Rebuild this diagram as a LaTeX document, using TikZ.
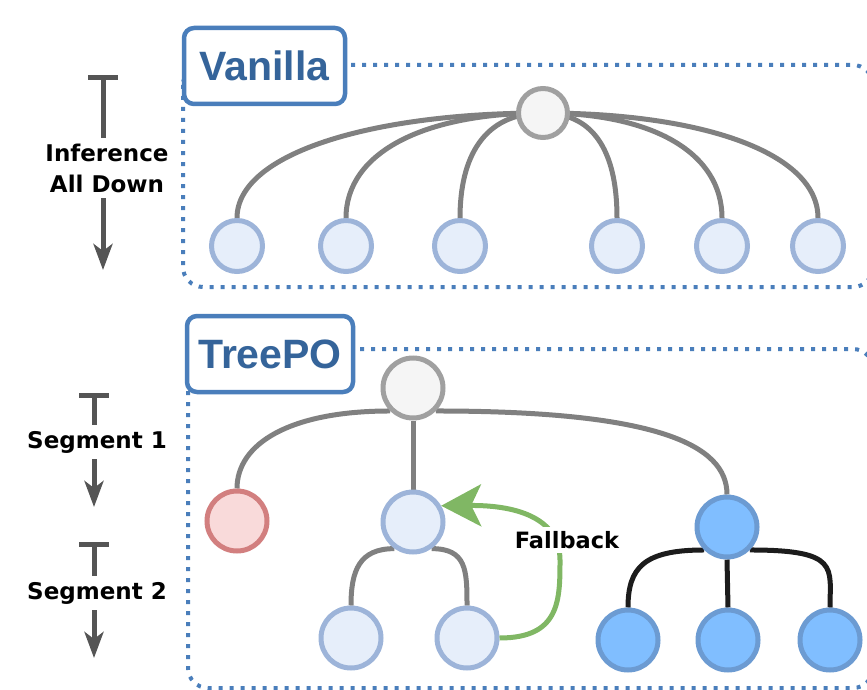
\documentclass[tikz,border=0pt]{standalone}
\usepackage{fontspec}
\newfontfamily\labfont{DejaVu Sans}
\newfontfamily\ttlfont{Liberation Sans}
\usetikzlibrary{arrows.meta,backgrounds}
\definecolor{frameblue}{HTML}{4A7EBB}
\definecolor{titleblue}{HTML}{35649A}
\definecolor{rootfill}{HTML}{F5F5F5}
\definecolor{rootdraw}{HTML}{A0A0A0}
\definecolor{leaffill}{HTML}{E6EEFA}
\definecolor{leafdraw}{HTML}{9DB4D9}
\definecolor{redfill}{HTML}{F9DADA}
\definecolor{reddraw}{HTML}{D27F7F}
\definecolor{bluefill}{HTML}{80BEFF}
\definecolor{bluedraw}{HTML}{6C9BD2}
\definecolor{edgegray}{HTML}{808080}
\definecolor{edgeblack}{HTML}{1C1C1C}
\definecolor{fbgreen}{HTML}{80B764}
\definecolor{arrgray}{HTML}{555555}
\begin{document}
\begin{tikzpicture}[x=1pt,y=-1pt,
  frame/.style={draw=frameblue, line width=4pt, dash pattern=on 4pt off 7pt, rounded corners=20pt},
  titlebox/.style={draw=frameblue, line width=4.5pt, rounded corners=10pt, fill=white, text=titleblue,
    font=\ttlfont\bfseries\fontsize{41}{41}\selectfont, inner sep=0pt},
  vroot/.style={circle, draw=rootdraw, fill=rootfill, line width=5pt, inner sep=0pt, minimum size=49pt},
  vleaf/.style={circle, draw=leafdraw, fill=leaffill, line width=5pt, inner sep=0pt, minimum size=51pt},
  tnode/.style={circle, line width=5pt, inner sep=0pt, minimum size=60pt},
  troot/.style={tnode, draw=rootdraw, fill=rootfill},
  tlight/.style={tnode, draw=leafdraw, fill=leaffill},
  tred/.style={tnode, draw=reddraw, fill=redfill},
  tblue/.style={tnode, draw=bluedraw, fill=bluefill},
  gedge/.style={draw=edgegray, line width=5pt},
  bedge/.style={draw=edgeblack, line width=5pt},
  segarrow/.style={draw=arrgray, line width=5pt, arrows={Bar[width=30pt]-Stealth[length=26pt,width=19pt,inset=7pt]}},
  seglabel/.style={fill=white, font=\labfont\bfseries\fontsize{23}{31}\selectfont, align=center, inner sep=5.5pt},
  fb/.style={draw=fbgreen, line width=5pt, arrows={-Stealth[length=40pt,width=42pt,inset=10pt]}},
  fblabel/.style={fill=white, font=\labfont\bfseries\fontsize{22.5}{26}\selectfont, inner sep=4pt}
]
\useasboundingbox (0,0) rectangle (867,690);
\clip (0,0) rectangle (867,690);

% frames
\draw[frame] (183,65) rectangle (873,287);
\draw[frame] (188,349) rectangle (873,688);

% titles
\node[titlebox, minimum width=161pt, minimum height=76pt] (vt) at (264.5,66) {Vanilla};
\node[titlebox, minimum width=166pt, minimum height=76pt] (tt) at (270,354) {TreePO};

% vanilla tree
\node[vroot] (v0) at (543,113) {};
\node[vleaf] (v1) at (237,246) {};
\node[vleaf] (v2) at (346,246) {};
\node[vleaf] (v3) at (460,246) {};
\node[vleaf] (v4) at (617,246) {};
\node[vleaf] (v5) at (722,246) {};
\node[vleaf] (v6) at (818,246) {};

% treepo tree
\node[troot] (t0) at (413,388) {};
\node[tred] (r1) at (237,521) {};
\node[tlight] (m1) at (413,522) {};
\node[tblue] (b0) at (727,527) {};
\node[tlight] (c1) at (351,638) {};
\node[tlight] (c2) at (467,638) {};
\node[tblue] (d1) at (628,640) {};
\node[tblue] (d2) at (728,640) {};
\node[tblue] (d3) at (830,640) {};

\begin{scope}[on background layer]
  \draw[gedge] (v0.center) .. controls +(-170,0) and +(0,-65) .. (v1.north);
  \draw[gedge] (v0.center) .. controls +(-120,0) and +(0,-65) .. (v2.north);
  \draw[gedge] (v0.center) .. controls +(-60,0) and +(0,-60) .. (v3.north);
  \draw[gedge] (v0.center) .. controls +(55,0) and +(0,-60) .. (v4.north);
  \draw[gedge] (v0.center) .. controls +(110,0) and +(0,-65) .. (v5.north);
  \draw[gedge] (v0.center) .. controls +(160,0) and +(0,-65) .. (v6.north);

  \draw[gedge] (t0.-135) .. controls +(-100,0) and +(0,-45) .. (r1.north);
  \draw[gedge] (t0.south) -- (m1.north);
  \draw[gedge] (t0.-45) .. controls +(220,0) and +(0,-50) .. (b0.north);
  \draw[gedge] (m1.-125) .. controls +(-35,0) and +(0,-35) .. (c1.north);
  \draw[gedge] (m1.-55) .. controls +(35,0) and +(0,-35) .. (c2.north);
  \draw[bedge] (b0.-135) .. controls +(-60,0) and +(0,-40) .. (d1.north);
  \draw[bedge] (b0.south) -- (d2.north);
  \draw[bedge] (b0.-45) .. controls +(90,0) and +(0,-40) .. (d3.north);
\end{scope}

% fallback
\draw[fb] (c2.east) .. controls (560,638) and (560,600) .. (560,560) .. controls (560,520) and (520,505) .. (m1.30);
\node[fblabel] (fbl) at (567,540) {Fallback};

% left arrows
\coordinate (ia) at (103,75);
\coordinate (ib) at (103,270);
\draw[segarrow] (ia) -- (ib);
\node[seglabel, inner sep=6pt] (inf) at (107,168) {Inference\\All Down};

\coordinate (s1a) at (94,393);
\coordinate (s1b) at (94,507);
\draw[segarrow] (s1a) -- (s1b);
\node[seglabel] (s1) at (97,442) {Segment 1};

\coordinate (s2a) at (94,542);
\coordinate (s2b) at (94,658);
\draw[segarrow] (s2a) -- (s2b);
\node[seglabel] (s2) at (97,593) {Segment 2};
\end{tikzpicture}
\end{document}
